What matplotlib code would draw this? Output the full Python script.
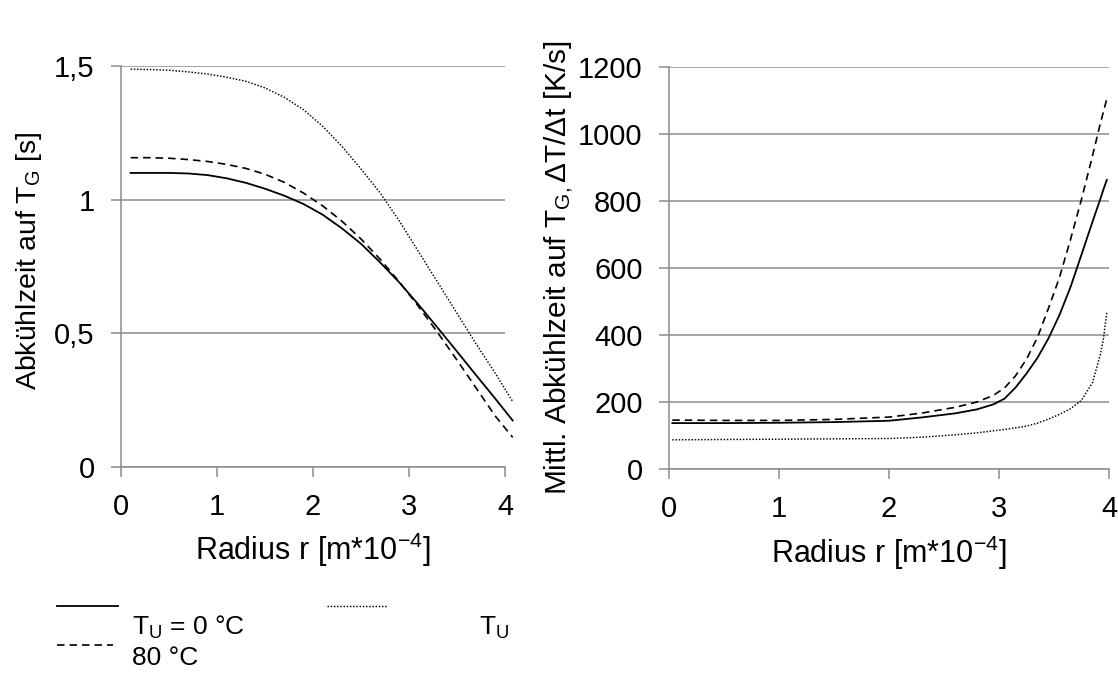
import matplotlib
matplotlib.use("Agg")
import matplotlib.pyplot as plt
from matplotlib.lines import Line2D

plt.rcParams['font.family'] = ['Liberation Sans', 'DejaVu Sans']
plt.rcParams['mathtext.fontset'] = 'custom'
plt.rcParams['mathtext.rm'] = 'Liberation Sans'
plt.rcParams['mathtext.it'] = 'Liberation Sans:italic'
plt.rcParams['mathtext.bf'] = 'Liberation Sans:bold'

# ---------------- data ----------------
# left chart: cooling time to T_G [s] vs radius
r_left = [0.1, 0.3, 0.5, 0.7, 0.9, 1.1, 1.3, 1.5, 1.7, 1.9, 2.1, 2.3, 2.5, 2.7, 2.9,
          3.1, 3.3, 3.5, 3.7, 3.9, 4.08]
t_solid = [1.100, 1.100, 1.100, 1.098, 1.092, 1.080, 1.063, 1.041, 1.015, 0.984, 0.944,
           0.893, 0.835, 0.765, 0.690, 0.607, 0.520, 0.432, 0.343, 0.255, 0.174]
t_dashed = [1.157, 1.157, 1.155, 1.150, 1.143, 1.132, 1.117, 1.095, 1.065, 1.025, 0.977,
            0.920, 0.853, 0.777, 0.692, 0.600, 0.502, 0.400, 0.295, 0.190, 0.111]
t_dotted = [1.488, 1.487, 1.484, 1.478, 1.470, 1.458, 1.443, 1.418, 1.383, 1.337, 1.275,
            1.200, 1.115, 1.025, 0.920, 0.805, 0.690, 0.575, 0.460, 0.350, 0.245]

# right chart: mean cooling rate dT/dt [K/s] vs radius
r_right = [0.03, 0.5, 1.0, 1.5, 2.0, 2.3, 2.6, 2.8, 2.95, 3.05, 3.15, 3.25, 3.35, 3.45,
           3.55, 3.65, 3.75, 3.85, 3.92, 3.95, 3.98]
k_solid = [137, 137, 138, 140, 144, 154, 166, 178, 193, 210, 243, 285, 332, 390,
           460, 543, 640, 738, 805, 835, 863]
k_dashed = [146, 145, 145, 148, 155, 167, 184, 200, 220, 242, 278, 328, 393, 480,
            572, 685, 805, 935, 1030, 1067, 1105]
k_dotted = [87, 88, 89, 90, 91, 95, 102, 108, 114, 118, 123, 128, 137, 149,
            163, 180, 205, 258, 340, 390, 468]

x_ticks = [0, 1, 2, 3, 4]
left_yticks = [0, 0.5, 1.0, 1.5]
left_yticklabels = ['0', '0,5', '1', '1,5']
right_yticks = [0, 200, 400, 600, 800, 1000, 1200]
right_yticklabels = ['0', '200', '400', '600', '800', '1000', '1200']

xlabel = r'Radius r [m*10$^{\mathregular{-4}}$]'
left_ylabel = r'Abkühlzeit auf T$_{\mathregular{G}}$ [s]'
right_ylabel = r'Mittl. Abkühlzeit auf T$_{\mathregular{G,}}$ΔT/Δt [K/s]'
legend_labels = [r'T$_{\mathregular{U}}$ = 0 °C', '80 °C', r'T$_{\mathregular{U}}$']

# ---------------- styles ----------------
GRID = '#8c8c8c'
TICK_FS = 21
XLAB_FS = 22
solid_style = dict(color='black', lw=1.3, linestyle='-')
dashed_style = dict(color='black', lw=1.2, linestyle=(0, (4.5, 3.0)))
dotted_style = dict(color='black', lw=1.05, linestyle=(0, (1.0, 1.2)))

W, H = 1118, 688
fig = plt.figure(figsize=(W / 100, H / 100), dpi=100)

ax1 = fig.add_axes([121 / W, 1 - 467 / H, 384 / W, 401 / H])
ax2 = fig.add_axes([669 / W, 1 - 469 / H, 440 / W, 402 / H])


def style_axes(ax, yticks, yticklabels, ymax):
    ax.set_xlim(0, 4)
    ax.set_ylim(0, ymax)
    ax.set_xticks(x_ticks)
    ax.set_xticklabels([str(t) for t in x_ticks])
    ax.set_yticks(yticks)
    ax.set_yticklabels(yticklabels)
    for s in ('top', 'right'):
        ax.spines[s].set_visible(False)
    for s in ('left', 'bottom'):
        ax.spines[s].set_color(GRID)
        ax.spines[s].set_linewidth(1.1)
    ax.yaxis.grid(True, color=GRID, lw=1.1)
    ax.set_axisbelow(True)
    ax.tick_params(axis='both', colors=GRID, labelcolor='black', labelsize=TICK_FS,
                   width=1.1, length=7, direction='out')
    ax.tick_params(axis='y', pad=12)
    ax.tick_params(axis='x', pad=12)
    ax.set_xlabel(xlabel, fontsize=XLAB_FS)
    ax.xaxis.set_label_coords(0.5, -0.16)


style_axes(ax1, left_yticks, left_yticklabels, 1.5)
style_axes(ax2, right_yticks, right_yticklabels, 1200)

ax1.plot(r_left, t_solid, clip_on=False, **solid_style)
ax1.plot(r_left, t_dashed, clip_on=False, **dashed_style)
ax1.plot(r_left, t_dotted, clip_on=False, **dotted_style)

ax2.plot(r_right, k_solid, clip_on=False, **solid_style)
ax2.plot(r_right, k_dashed, clip_on=False, **dashed_style)
ax2.plot(r_right, k_dotted, clip_on=False, **dotted_style)

ax1.set_ylabel(left_ylabel, fontsize=20.5)
ax1.yaxis.set_label_coords(-0.240, 0.515)
ax1.yaxis.label.set_verticalalignment('center')

ax2.set_ylabel(right_ylabel, fontsize=21.5)
ax2.yaxis.set_label_coords(-0.25, 0.5)
ax2.yaxis.label.set_verticalalignment('center')

# ---------------- legend (reproduced layout) ----------------
def fx(px):
    return px / W


def fy(py):
    return 1 - py / H


fig.add_artist(Line2D([fx(57), fx(118)], [fy(606), fy(606)], transform=fig.transFigure, **solid_style))
fig.add_artist(Line2D([fx(57), fx(113)], [fy(645), fy(645)], transform=fig.transFigure, **dashed_style))
fig.add_artist(Line2D([fx(327), fx(388)], [fy(606), fy(606)], transform=fig.transFigure, **dotted_style))
LFS = 19
fig.text(fx(132), fy(635), legend_labels[0], fontsize=LFS, va='baseline', ha='left')
fig.text(fx(132), fy(665), legend_labels[1], fontsize=LFS, va='baseline', ha='left')
fig.text(fx(479), fy(635), legend_labels[2], fontsize=LFS, va='baseline', ha='left')

fig.savefig('out.png', dpi=100)
